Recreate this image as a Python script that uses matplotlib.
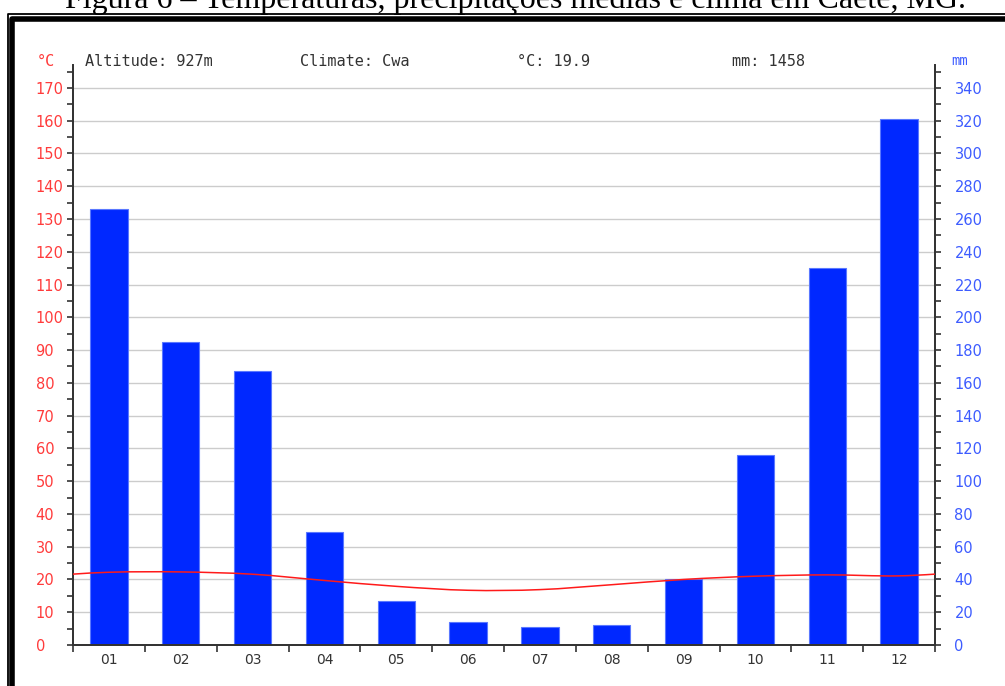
import matplotlib
matplotlib.use("Agg")
import matplotlib.pyplot as plt
from matplotlib.path import Path
from matplotlib.patches import PathPatch
from matplotlib.ticker import MultipleLocator
import numpy as np

# Climate data for Caeté, MG
months = ["01", "02", "03", "04", "05", "06", "07", "08", "09", "10", "11", "12"]
precip_mm = [266, 185, 167, 69, 27, 14, 11, 12, 40, 116, 230, 321]
temp_c = [22.2, 22.3, 21.6, 19.7, 17.9, 16.7, 16.9, 18.4, 20.0, 21.0, 21.4, 21.1]
header = ["Altitude: 927m", "Climate: Cwa", "°C: 19.9", "mm: 1458"]
header_x = [85, 300, 517, 732]
title = "Figura 6 – Temperaturas, precipitações médias e clima em Caeté, MG."

W, H = 1005, 686
RED = "#ff3b3b"
BLUE = "#3d5cff"
BAR = "#0028ff"
DARK = "#333333"


def fx(px):
    return px / W


def fy(py):
    return 1 - py / H


fig = plt.figure(figsize=(W / 100, H / 100), dpi=100)

# Frame round the chart (double line, left and top visible)
frame = fig.add_axes([0, 0, 1, 1], zorder=-5)
frame.set_xlim(0, W)
frame.set_ylim(H, 0)
frame.axis("off")
frame.plot([7.5, 7.5, W + 5], [H + 5, 13.5, 13.5], color="black", lw=1.3, solid_capstyle="butt")
frame.plot([12, 12, W + 5], [H + 5, 18.5, 18.5], color="black", lw=4.0, solid_capstyle="butt")

# Caption text, clipped at the top of the image like the source
fig.text(fx(515), fy(8), title, family="Liberation Serif", fontsize=23,
         ha="center", va="baseline", color="black")

ax = fig.add_axes([fx(73), fy(645), fx(935) - fx(73), fy(65) - fy(645)])
ax2 = ax.twinx()

x = np.arange(1, 13)

ax.set_xlim(0.5, 12.5)
ax.set_ylim(0, 177)
ax2.set_ylim(0, 354)

# gridlines behind the bars
for v in range(20, 341, 20):
    ax2.axhline(v, color="#cccccc", lw=1, zorder=0)

ax2.bar(x, precip_mm, width=0.52, color=BAR, edgecolor="#5a78ff", linewidth=0.8, zorder=2)

# smooth temperature curve, wrapping round the year
tx = np.arange(-1, 15)
ty = [temp_c[10], temp_c[11]] + temp_c + [temp_c[0], temp_c[1]]
verts = [(tx[1], ty[1])]
codes = [Path.MOVETO]
for i in range(1, len(tx) - 2):
    p0 = np.array([tx[i - 1], ty[i - 1]])
    p1 = np.array([tx[i], ty[i]])
    p2 = np.array([tx[i + 1], ty[i + 1]])
    p3 = np.array([tx[i + 2], ty[i + 2]])
    c1 = p1 + (p2 - p0) / 6
    c2 = p2 - (p3 - p1) / 6
    verts += [tuple(c1), tuple(c2), tuple(p2)]
    codes += [Path.CURVE4] * 3
curve = PathPatch(Path(verts, codes), facecolor="none", edgecolor="#ff1a1a", lw=1.1, zorder=5)
ax.add_patch(curve)
ax.set_zorder(ax2.get_zorder() + 1)
ax.patch.set_visible(False)

# spines
for a in (ax, ax2):
    a.spines["top"].set_visible(False)
    for s in ("left", "right", "bottom"):
        a.spines[s].set_color(DARK)
        a.spines[s].set_linewidth(1.3)

# x ticks at month boundaries, labels centred
ax.set_xticks(np.arange(0.5, 13, 1))
ax.set_xticklabels([])
ax.set_xticks(x, minor=True)
ax.set_xticklabels(months, minor=True)
ax.tick_params(axis="x", which="major", direction="out", length=5, width=1.2, color=DARK)
ax.tick_params(axis="x", which="minor", length=0, pad=6, labelsize=10, labelcolor=DARK)

# left axis (°C)
ax.yaxis.set_minor_locator(MultipleLocator(5))
ax.set_yticks(range(0, 171, 10))
ax.tick_params(axis="y", which="both", direction="out", length=4, width=1.2, color=DARK,
               labelcolor=RED, labelsize=10.5, pad=23)
for lab in ax.get_yticklabels():
    lab.set_horizontalalignment("left")

# right axis (mm)
ax2.yaxis.set_minor_locator(MultipleLocator(10))
ax2.set_yticks(range(0, 341, 20))
ax2.tick_params(axis="y", which="both", direction="out", length=4, width=1.2, color=DARK,
                labelcolor=BLUE, labelsize=10.5, pad=10)

# header line
fig.text(fx(37), fy(61), "°C", color=RED, family="DejaVu Sans Mono", fontsize=11, va="center")
fig.text(fx(951), fy(61), "mm", color=BLUE, family="DejaVu Sans Mono", fontsize=10, va="center")
for txt, hx in zip(header, header_x):
    fig.text(fx(hx), fy(61), txt, color=DARK, family="DejaVu Sans Mono", fontsize=11, va="center")

fig.savefig("out.png", dpi=100)
